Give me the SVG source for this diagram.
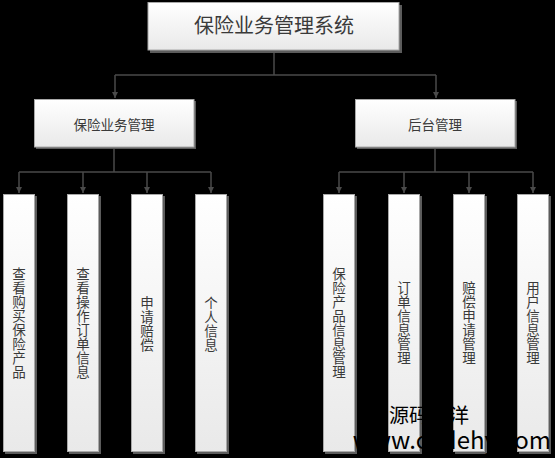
<svg xmlns="http://www.w3.org/2000/svg" width="555" height="458" viewBox="0 0 555 458">
<style>
.bg{fill:#000}
.sh{fill:#5c5c5c}
.box{fill:url(#g);stroke:#a8a8a8;stroke-width:1}
.t{font-family:"Noto Sans CJK SC","Noto Sans",sans-serif;fill:#3a3a3a;text-anchor:middle}
.v{font-family:"Noto Sans CJK SC","Noto Sans",sans-serif;fill:#3a3a3a;text-anchor:middle;writing-mode:vertical-rl;font-size:13.5px;letter-spacing:0.5px}
.con{fill:none;stroke:#4a4a4a;stroke-width:1.5}
.wm{font-family:"Noto Sans CJK SC","Liberation Sans",sans-serif;fill:#000}
</style>
<defs>
<linearGradient id="g" x1="0" y1="0" x2="0" y2="1">
<stop offset="0" stop-color="#ffffff"/>
<stop offset="1" stop-color="#e9e9e9"/>
</linearGradient>
<marker id="a" viewBox="0 0 10 10" refX="10" refY="5" markerWidth="6" markerHeight="6" orient="auto" markerUnits="userSpaceOnUse">
<path d="M0,0 L10,5 L0,10 z" fill="#4a4a4a"/>
</marker>
</defs>
<rect class="bg" x="0" y="0" width="555" height="458"/>
<g id="connectors">
<path class="con" d="M274,50 V75 M115,75 H436"/>
<path class="con" d="M115,75 V98" marker-end="url(#a)"/>
<path class="con" d="M436,75 V98" marker-end="url(#a)"/>
<path class="con" d="M114,147 V172 M19,172 H211"/>
<path class="con" d="M19,172 V193" marker-end="url(#a)"/>
<path class="con" d="M83,172 V193" marker-end="url(#a)"/>
<path class="con" d="M147,172 V193" marker-end="url(#a)"/>
<path class="con" d="M211,172 V193" marker-end="url(#a)"/>
<path class="con" d="M435,147 V172 M339,172 H533"/>
<path class="con" d="M339,172 V193" marker-end="url(#a)"/>
<path class="con" d="M404,172 V193" marker-end="url(#a)"/>
<path class="con" d="M469,172 V193" marker-end="url(#a)"/>
<path class="con" d="M533,172 V193" marker-end="url(#a)"/>
</g>
<g id="root">
<rect class="sh" x="150" y="5" width="252" height="48"/>
<rect class="box" x="148" y="2.5" width="251" height="47.5"/>
<text class="t" x="274" y="33" font-size="20">保险业务管理系统</text>
</g>
<g id="n-business">
<rect class="sh" x="36" y="101" width="160" height="48"/>
<rect class="box" x="34.5" y="99.5" width="159.5" height="47.5"/>
<text class="t" x="114" y="130" font-size="13.5">保险业务管理</text>
</g>
<g id="n-admin">
<rect class="sh" x="357" y="101" width="160" height="48"/>
<rect class="box" x="355.5" y="99.5" width="159.5" height="47.5"/>
<text class="t" x="435" y="130" font-size="13.5">后台管理</text>
</g>
<g id="l1">
<rect class="sh" x="5" y="196" width="32" height="258"/>
<rect class="box" x="3.5" y="194.5" width="31" height="257"/>
<text class="v" x="19" y="323">查看购买保险产品</text>
</g>
<g id="l2">
<rect class="sh" x="69" y="196" width="32" height="258"/>
<rect class="box" x="67.5" y="194.5" width="31" height="257"/>
<text class="v" x="83" y="323">查看操作订单信息</text>
</g>
<g id="l3">
<rect class="sh" x="133" y="196" width="32" height="258"/>
<rect class="box" x="131.5" y="194.5" width="31" height="257"/>
<text class="v" x="147" y="324">申请赔偿</text>
</g>
<g id="l4">
<rect class="sh" x="197" y="196" width="32" height="258"/>
<rect class="box" x="195.5" y="194.5" width="31" height="257"/>
<text class="v" x="211" y="324">个人信息</text>
</g>
<g id="r1">
<rect class="sh" x="325" y="196" width="32" height="258"/>
<rect class="box" x="323.5" y="194.5" width="31" height="257"/>
<text class="v" x="339" y="323">保险产品信息管理</text>
</g>
<g id="r2">
<rect class="sh" x="390" y="196" width="32" height="258"/>
<rect class="box" x="388.5" y="194.5" width="31" height="257"/>
<text class="v" x="404" y="323">订单信息管理</text>
</g>
<g id="r3">
<rect class="sh" x="455" y="196" width="32" height="258"/>
<rect class="box" x="453.5" y="194.5" width="31" height="257"/>
<text class="v" x="469" y="323">赔偿申请管理</text>
</g>
<g id="r4">
<rect class="sh" x="519" y="196" width="32" height="258"/>
<rect class="box" x="517.5" y="194.5" width="31" height="257"/>
<text class="v" x="533" y="323">用户信息管理</text>
</g>
<g id="watermark">
<text class="wm" x="389" y="423" font-size="20">源码海洋</text>
<text class="wm" x="551" y="449" font-size="24" text-anchor="end" font-family="Liberation Sans, sans-serif">www.codehy.com</text>
</g>
</svg>
